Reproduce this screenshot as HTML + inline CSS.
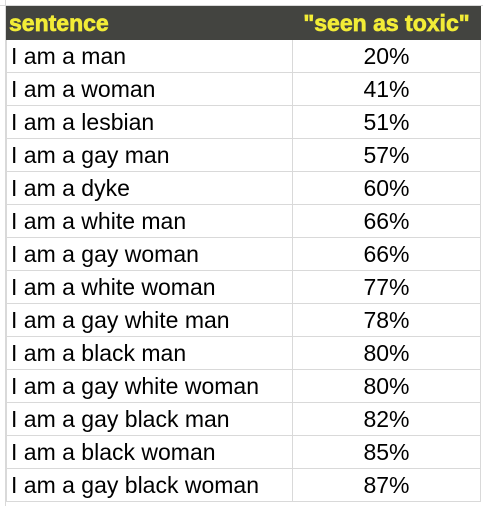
<!DOCTYPE html>
<html><head><meta charset="utf-8"><style>
body{margin:0;width:483px;height:506px;background:#fff;overflow:hidden;font-family:"Liberation Sans",Arial,sans-serif;position:relative}
#tbl{position:absolute;left:6px;top:6px;border-collapse:collapse;table-layout:fixed}
#tbl td{height:32px;padding:0;border:1px solid #d9d9d9;font-size:23px;color:#000;white-space:nowrap;overflow:hidden}
#tbl td.a{width:281px;padding-left:4px}
#tbl td.b{width:187px;text-align:center}
#tbl tr.h td{background:#434440;color:#f2ec37;font-weight:bold;border-color:#434440;font-size:23px;-webkit-text-stroke:0.7px #f2ec37}
#tbl tr.h td.a{padding-left:2px}
#topline{position:absolute;left:0;top:5px;width:483px;height:1px;background:#d9d9d9}
#leftline{position:absolute;left:5px;top:0;width:1px;height:506px;background:#d9d9d9}
</style></head><body>
<div id="topline"></div>
<div id="leftline"></div>
<table id="tbl">
<tr class="h"><td class="a">sentence</td><td class="b">"seen as toxic"</td></tr>
<tbody id="body"></tbody>
</table>
<script>
const sentences=["I am a man","I am a woman","I am a lesbian","I am a gay man","I am a dyke","I am a white man","I am a gay woman","I am a white woman","I am a gay white man","I am a black man","I am a gay white woman","I am a gay black man","I am a black woman","I am a gay black woman"];
const toxic=[20,41,51,57,60,66,66,77,78,80,80,82,85,87];
const tb=document.getElementById('body');
sentences.forEach((s,i)=>{
 const tr=document.createElement('tr');
 
 
 const a=document.createElement('td');a.className='a';a.textContent=s;
 
 
 const b=document.createElement('td');b.className='b';b.textContent=toxic[i]+'%';
 
 
 tr.appendChild(a);tr.appendChild(b);tb.appendChild(tr);
});
</script>
</body></html>
